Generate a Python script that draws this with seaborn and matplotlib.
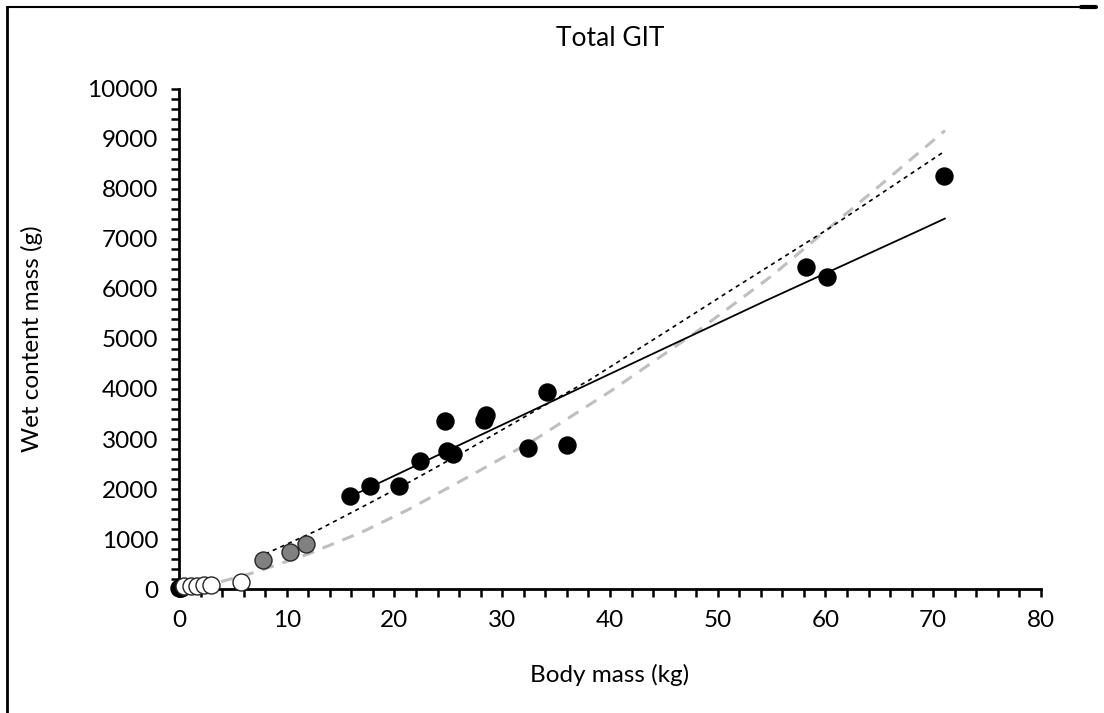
import matplotlib.pyplot as plt
import matplotlib.lines as mlines
import numpy as np
import pandas as pd
import seaborn as sns
from matplotlib.ticker import MultipleLocator

# adult animals (black)
adult_x = [0.05, 0.12, 0.2, 0.3, 15.9, 17.7, 20.4, 22.4, 24.7, 24.9, 25.4,
           28.3, 28.5, 32.4, 34.2, 36.0, 58.2, 60.1, 71.0]
adult_y = [15, 30, 20, 45, 1870, 2070, 2070, 2570, 3370, 2770, 2710,
           3390, 3470, 2830, 3930, 2890, 6440, 6240, 8260]

# juveniles (grey)
juv_x = [7.8, 10.3, 11.8]
juv_y = [580, 750, 900]

# neonates (white)
neo_x = [0.5, 1.1, 1.7, 2.3, 3.0, 5.8]
neo_y = [60, 70, 70, 75, 80, 150]

# trend lines
solid_x = [15.9, 16.5, 38.9, 54.5, 68.8, 71.1]
solid_y = [1850, 1910, 4190, 5770, 7180, 7410]

dotted_x = [8.0, 12.9, 17.0, 21.4, 26.1, 33.5, 38.1, 45.0, 51.4, 60.1, 71.1]
dotted_y = [700, 1180, 1640, 2140, 2700, 3620, 4180, 5120, 6000, 7180, 8760]

grey_x = [0.0, 3.6, 7.0, 12.0, 17.0, 21.3, 27.0, 32.9, 40.3, 48.4, 55.0, 60.1, 65.0, 71.1]
grey_y = [0, 130, 330, 700, 1140, 1590, 2260, 2970, 3990, 5200, 6260, 7180, 8060, 9170]

sns.set_theme(style="ticks")
plt.rcParams["font.family"] = ["Lato", "DejaVu Sans"]

fig = plt.figure(figsize=(11.04, 7.13), dpi=100)
ax = fig.add_axes([0.1621, 0.1739, 0.7808, 0.7013])

sns.lineplot(x=grey_x, y=grey_y, ax=ax, color="#bfbfbf", lw=2.2,
             linestyle=(0, (4, 3)), sort=False, estimator=None, zorder=1)
sns.lineplot(x=dotted_x, y=dotted_y, ax=ax, color="black", lw=1.2,
             linestyle=(0, (2.5, 2.5)), sort=False, estimator=None, zorder=1)
sns.lineplot(x=solid_x, y=solid_y, ax=ax, color="black", lw=1.3,
             sort=False, estimator=None, zorder=1)

sns.scatterplot(x=adult_x, y=adult_y, ax=ax, color="black", edgecolor="black",
                s=150, linewidth=1, zorder=3)
sns.scatterplot(x=juv_x, y=juv_y, ax=ax, color="#808080", edgecolor="#262626",
                s=150, linewidth=1, zorder=3)
sns.scatterplot(x=neo_x, y=neo_y, ax=ax, color="white", edgecolor="#262626",
                s=150, linewidth=1, zorder=3)
for coll in ax.collections:
    coll.set_clip_on(False)

ax.set_xlim(0, 80)
ax.set_ylim(0, 10000)
ax.xaxis.set_major_locator(MultipleLocator(10))
ax.xaxis.set_minor_locator(MultipleLocator(2))
ax.yaxis.set_major_locator(MultipleLocator(1000))
ax.yaxis.set_minor_locator(MultipleLocator(200))
ax.tick_params(which="both", direction="out", color="black", width=1.8,
               labelsize=17.5, labelcolor="black")
ax.tick_params(which="major", length=6, pad=9)
ax.tick_params(which="minor", length=6)

sns.despine(ax=ax)
for side in ["left", "bottom"]:
    ax.spines[side].set_linewidth(2)
    ax.spines[side].set_color("black")

ax.set_xlabel("Body mass (kg)", fontsize=17.5, color="black", labelpad=24)
ax.set_ylabel("Wet content mass (g)", fontsize=17.5, color="black", labelpad=32)
ax.set_title("Total GIT", fontsize=19, color="black", pad=31)

# frame around the figure (left and top edges only)
fig.add_artist(mlines.Line2D([7 / 1104, 7 / 1104], [0, 1 - 7 / 713],
                             color="black", lw=2))
fig.add_artist(mlines.Line2D([7 / 1104, 1081 / 1104], [1 - 7 / 713, 1 - 7 / 713],
                             color="black", lw=1.5))
fig.add_artist(mlines.Line2D([1081 / 1104, 1096 / 1104], [1 - 7 / 713, 1 - 7 / 713],
                             color="black", lw=3))

fig.savefig("out.png", dpi=100)
plt.close(fig)
